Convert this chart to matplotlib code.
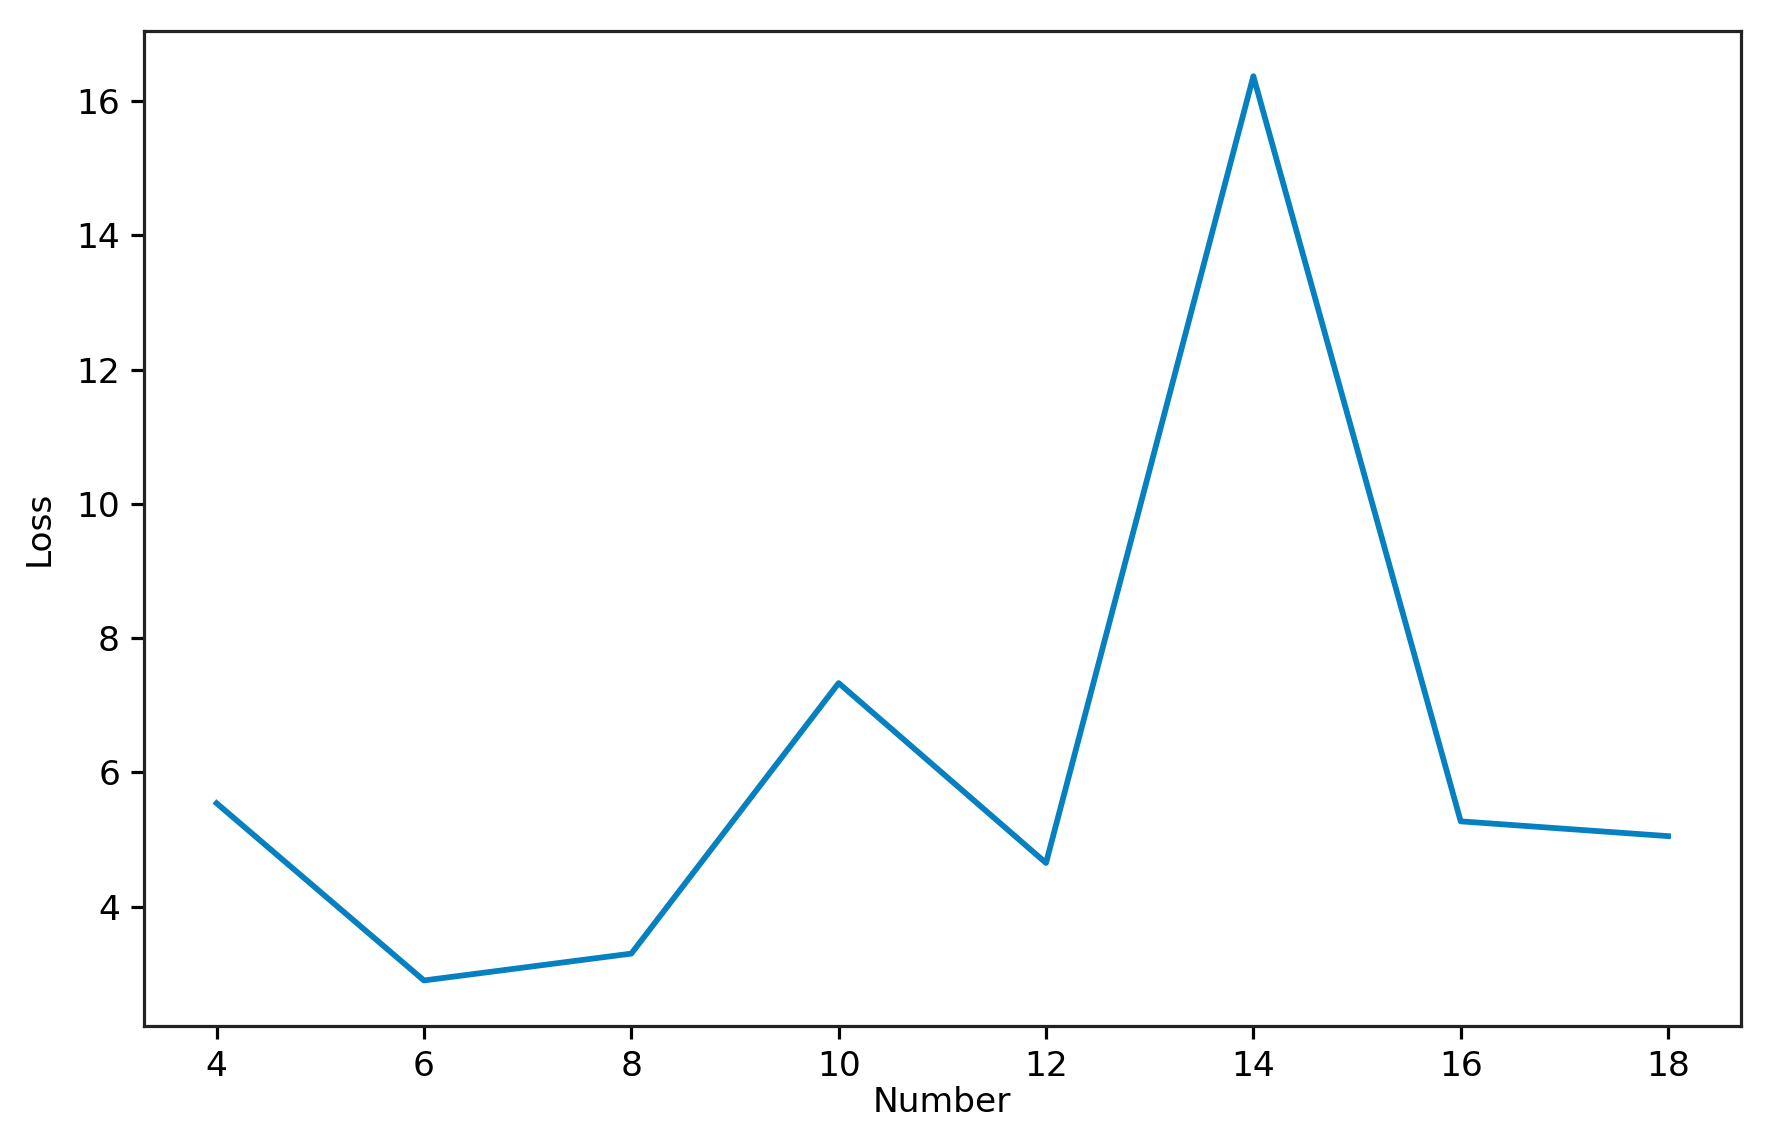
import matplotlib
matplotlib.use("Agg")
import matplotlib.pyplot as plt

number = [4, 6, 8, 10, 12, 14, 16, 18]
loss = [5.54, 2.90, 3.30, 7.33, 4.65, 16.37, 5.27, 5.05]
xticks = [4, 6, 8, 10, 12, 14, 16, 18]
yticks = [4, 6, 8, 10, 12, 14, 16]

dpi = 230
fig = plt.figure(figsize=(1765 / dpi, 1139 / dpi), dpi=dpi)
ax = fig.add_axes([0.0816, 0.0995, 0.9046, 0.8733])
ax.plot(number, loss, color="#0580c0", linewidth=1.8)
ax.set_xticks(xticks)
ax.set_yticks(yticks)
ax.set_xlabel("Number", fontsize=10.8, labelpad=1)
ax.set_ylabel("Loss", fontsize=10.8, labelpad=6.5)
ax.tick_params(labelsize=10.8, width=1.0, length=4)
for s in ax.spines.values():
    s.set_color("#222222")
    s.set_linewidth(1.0)
fig.savefig("out.png", dpi=dpi)
